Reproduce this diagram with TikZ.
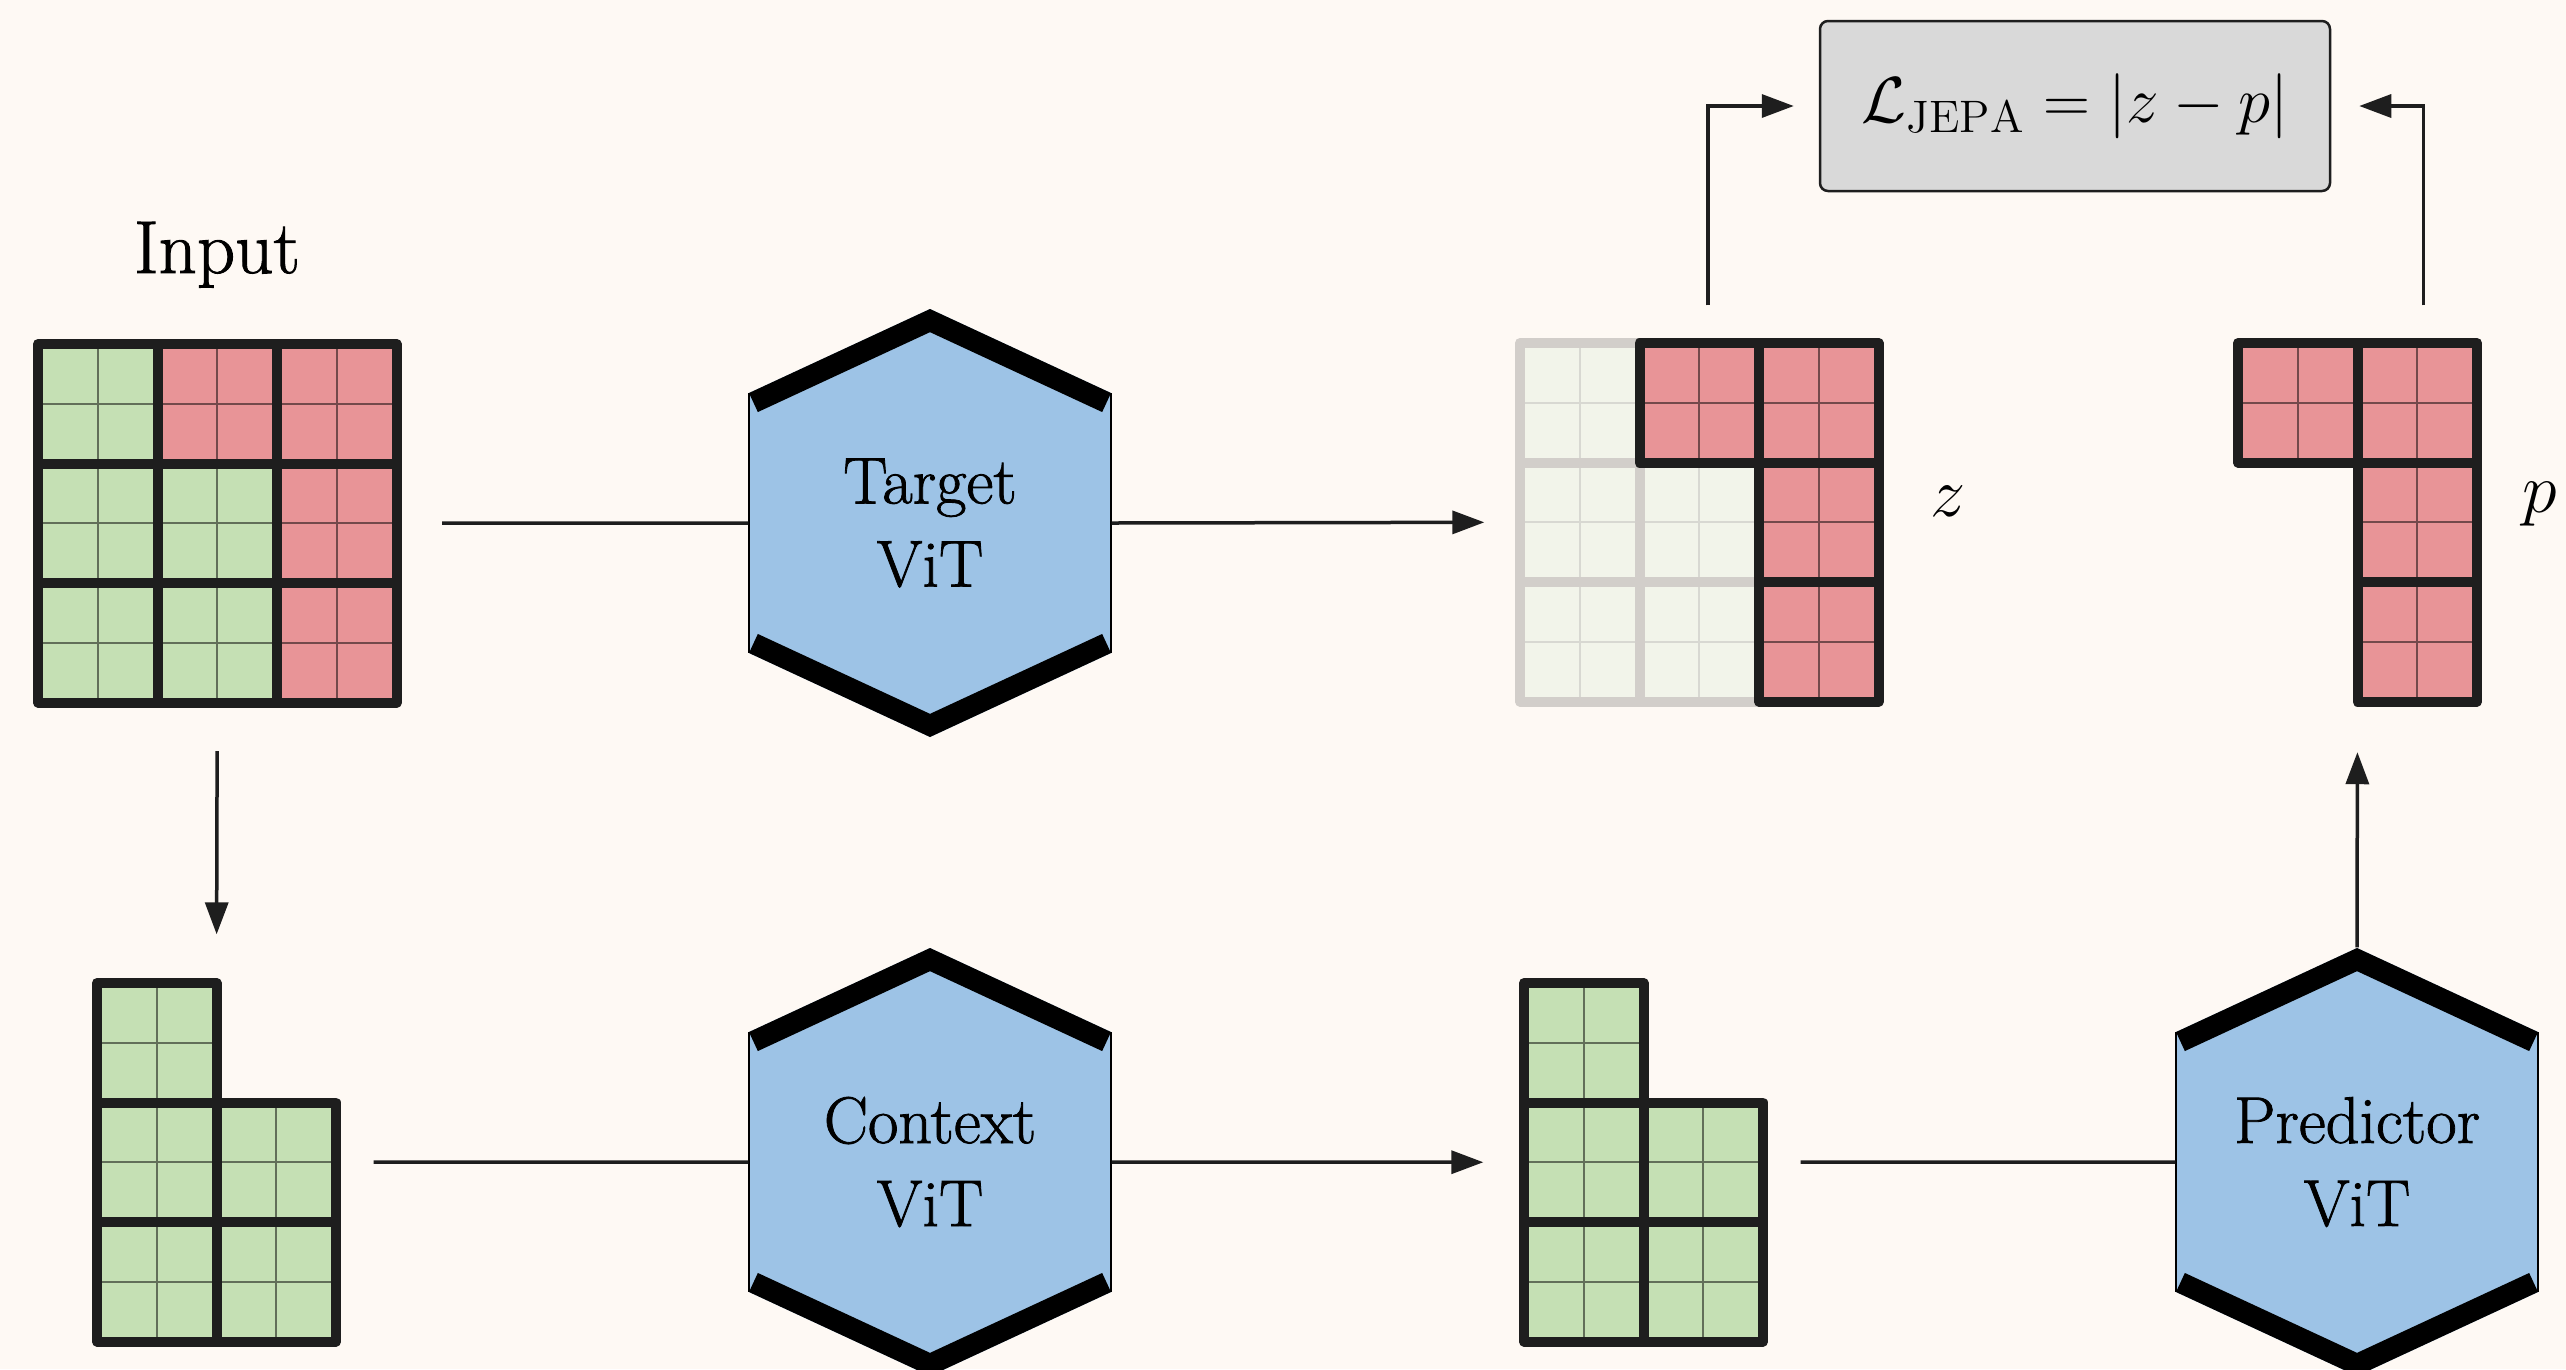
\RequirePackage{fix-cm}
\documentclass[tikz,border=0pt]{standalone}
\usepackage{fontspec}
\newfontfamily\heavyrm{Latin Modern Roman}[FakeBold=1.2]
\usetikzlibrary{arrows.meta}
\definecolor{bg}{HTML}{FEF9F4}
\definecolor{gfill}{HTML}{C5E0B4}
\definecolor{rfill}{HTML}{E89497}
\definecolor{mfill}{HTML}{F2F4EA}
\definecolor{mline}{HTML}{D2CECA}
\definecolor{mthin}{HTML}{D8D8D2}
\definecolor{dark}{HTML}{1E1E1E}
\definecolor{vitblue}{HTML}{9DC3E6}
\definecolor{lossgray}{HTML}{D9D9D9}
\newdimen\px \px=0.01cm
\tikzset{
  thinline/.style={black, draw opacity=0.5},
  thinmask/.style={mthin},
  conn/.style={draw=dark, line width=3.5\px},
  arr/.style={conn, -{Triangle[length=0.32cm, width=0.23cm]}},
  vitnode/.style={inner sep=0pt, minimum width=362\px, minimum height=428\px, align=center, font=\heavyrm\fontsize{18.8}{23.6}\selectfont},
  gridbox/.style={inner sep=0pt, draw=none},
}
% block: x y fill thinstyle bordercolor
\newcommand\blk[5]{%
  \fill[#3] (#1,#2) rectangle ++(119.5,119.5);
  \draw[line width=1.8\px, #4] (#1+59.75,#2) -- ++(0,119.5) (#1,#2+59.75) -- ++(119.5,0);
  \draw[line width=10\px, #5, line join=round] (#1,#2) rectangle ++(119.5,119.5);
}
% hexagon: name cx cy text
\newcommand\hexvit[4]{%
  \fill[vitblue] (#2,#3-214) -- (#2+181,#3-130) -- (#2+181,#3+130) -- (#2,#3+214) -- (#2-181,#3+130) -- (#2-181,#3-130) -- cycle;
  \begin{scope}
    \clip (#2,#3-214) -- (#2+181,#3-130) -- (#2+181,#3+130) -- (#2,#3+214) -- (#2-181,#3+130) -- (#2-181,#3-130) -- cycle;
    \draw[line width=42\px, black, line cap=square] (#2-181,#3-130) -- (#2,#3-214) -- (#2+181,#3-130);
    \draw[line width=42\px, black, line cap=square] (#2-181,#3+130) -- (#2,#3+214) -- (#2+181,#3+130);
  \end{scope}
  \draw[line width=2.5\px, black] (#2+181,#3-130) -- (#2+181,#3+130) (#2-181,#3-130) -- (#2-181,#3+130);
  \node[vitnode] (#1) at (#2,#3) {#4};
}
\begin{document}
\begin{tikzpicture}[x=0.01cm, y=-0.01cm]
\useasboundingbox (0,0) rectangle (2566,1369);
\fill[bg] (0,0) rectangle (2566,1369);
\clip (0,0) rectangle (2566,1369);

% ---------- Input grid ----------
\node[font=\heavyrm\fontsize{21.3}{26}\selectfont, anchor=base, inner sep=0pt] (inlabel) at (217,273) {Input};
\blk{38}{344}{gfill}{thinline}{dark}
\blk{157.5}{344}{rfill}{thinline}{dark}
\blk{277}{344}{rfill}{thinline}{dark}
\blk{38}{463.5}{gfill}{thinline}{dark}
\blk{157.5}{463.5}{gfill}{thinline}{dark}
\blk{277}{463.5}{rfill}{thinline}{dark}
\blk{38}{583}{gfill}{thinline}{dark}
\blk{157.5}{583}{gfill}{thinline}{dark}
\blk{277}{583}{rfill}{thinline}{dark}
\node[gridbox, minimum width=358.5\px, minimum height=358.5\px] (inp) at (217.25,523.25) {};

% ---------- Context grid ----------
\blk{97}{983}{gfill}{thinline}{dark}
\blk{97}{1102.5}{gfill}{thinline}{dark}
\blk{216.5}{1102.5}{gfill}{thinline}{dark}
\blk{97}{1222}{gfill}{thinline}{dark}
\blk{216.5}{1222}{gfill}{thinline}{dark}
\node[gridbox, minimum width=239\px, minimum height=358.5\px] (ctx) at (216.5,1162.25) {};

% ---------- Context output grid ----------
\blk{1524}{983}{gfill}{thinline}{dark}
\blk{1524}{1102.5}{gfill}{thinline}{dark}
\blk{1643.5}{1102.5}{gfill}{thinline}{dark}
\blk{1524}{1222}{gfill}{thinline}{dark}
\blk{1643.5}{1222}{gfill}{thinline}{dark}
\node[gridbox, minimum width=239\px, minimum height=358.5\px] (cog) at (1643.5,1162.25) {};

% ---------- Target (z) grid ----------
\blk{1520}{343}{mfill}{thinmask}{mline}
\blk{1520}{462.5}{mfill}{thinmask}{mline}
\blk{1639.5}{462.5}{mfill}{thinmask}{mline}
\blk{1520}{582}{mfill}{thinmask}{mline}
\blk{1639.5}{582}{mfill}{thinmask}{mline}
\blk{1639.5}{343}{rfill}{thinline}{dark}
\blk{1759}{343}{rfill}{thinline}{dark}
\blk{1759}{462.5}{rfill}{thinline}{dark}
\blk{1759}{582}{rfill}{thinline}{dark}
\node[gridbox, minimum width=358.5\px, minimum height=358.5\px] (zg) at (1699.25,522.25) {};
\node[font=\fontsize{20}{24}\selectfont, anchor=base west, inner sep=0pt] (zlabel) at (1930,516) {$z$};

% ---------- Prediction (p) grid ----------
\blk{2238}{343}{rfill}{thinline}{dark}
\blk{2357.5}{343}{rfill}{thinline}{dark}
\blk{2357.5}{462.5}{rfill}{thinline}{dark}
\blk{2357.5}{582}{rfill}{thinline}{dark}
\node[gridbox, minimum width=239\px, minimum height=358.5\px] (pg) at (2357.5,522.25) {};
\node[font=\fontsize{20}{24}\selectfont, anchor=base west, inner sep=0pt] (plabel) at (2522,512) {$p$};

% ---------- ViT hexagons ----------
\hexvit{tvit}{930}{523}{Target\\ViT}
\hexvit{cvit}{930}{1162}{Context\\ViT}
\hexvit{pvit}{2357}{1162}{Predictor\\ViT}

% ---------- Loss box ----------
\node[draw=dark, line width=2.5\px, rounded corners=8\px, fill=lossgray, minimum width=510\px, minimum height=170\px, inner sep=0pt, font=\fontsize{18.5}{22}\selectfont] (loss) at (2075,106) {$\mathcal{L}_{\mathrm{JEPA}} = |z - p|$};

% ---------- Connectors ----------
\draw[conn, shorten <=45\px] (inp.east) -- (tvit.west);
\draw[arr, shorten >=35\px] (tvit.east) -- (zg.west);
\draw[arr, shorten <=48\px, shorten >=48\px] (inp.south) -- (ctx.north);
\draw[conn, shorten <=37\px] (ctx.east) -- (cvit.west);
\draw[arr, shorten >=40\px] (cvit.east) -- (cog.west);
\draw[conn, shorten <=37\px] (cog.east) -- (pvit.west);
\draw[arr, shorten >=50\px] (pvit.north) -- (pg.south);
\draw[arr, shorten <=37\px, shorten >=25\px] ([xshift=8.5\px]zg.north) |- (loss.west);
\draw[arr, shorten <=37\px, shorten >=28\px] ([xshift=66\px]pg.north) |- (loss.east);
\end{tikzpicture}
\end{document}
